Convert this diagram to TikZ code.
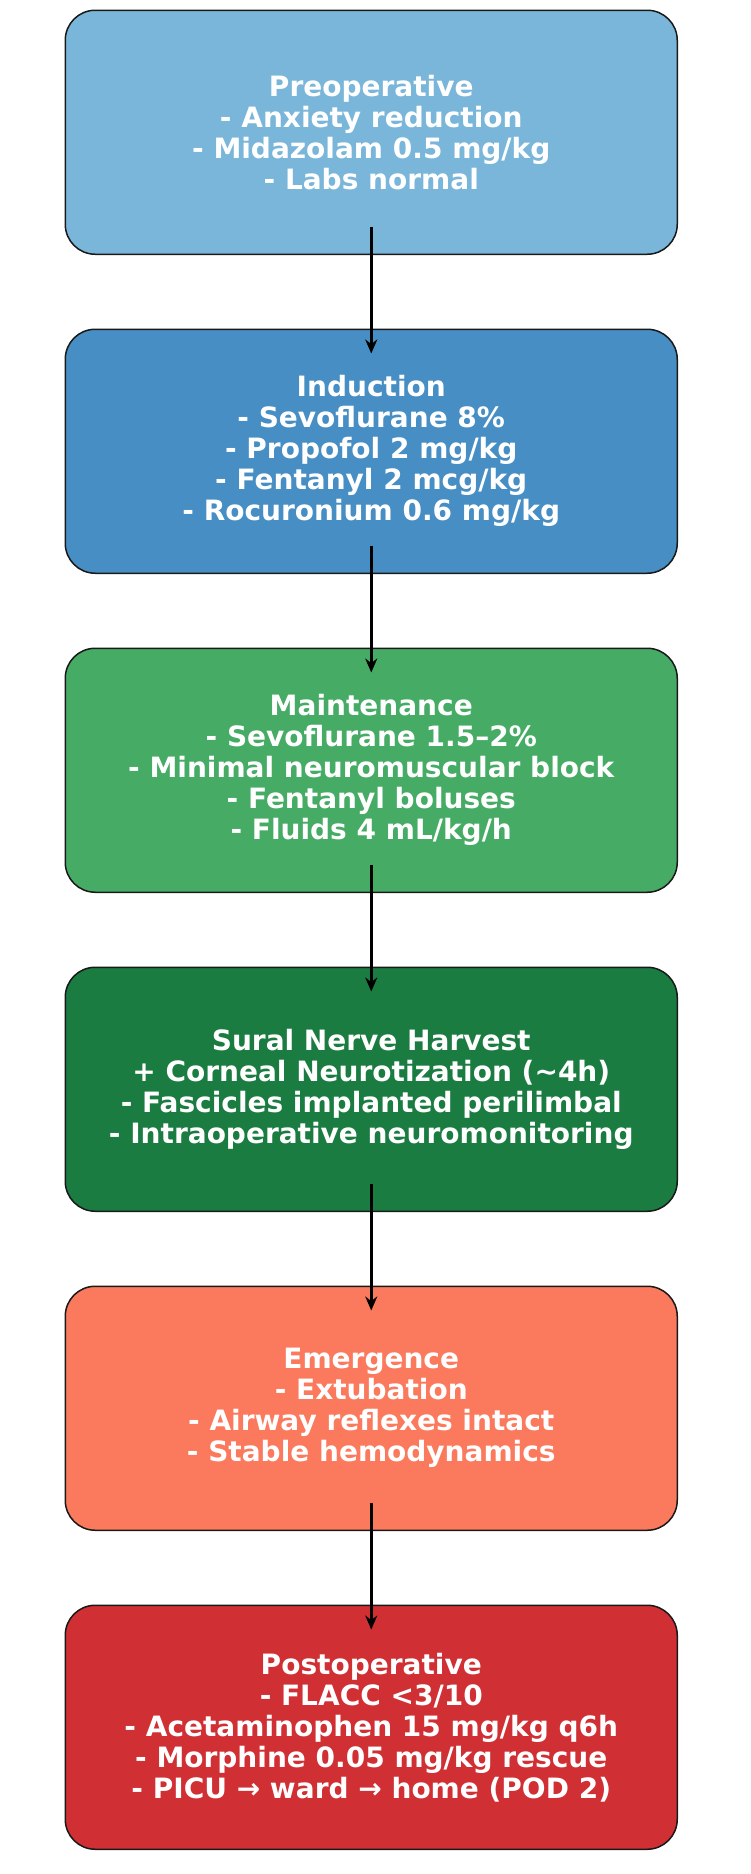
\documentclass[tikz,border=0pt]{standalone}
\usepackage{fontspec}
\setmainfont{DejaVu Sans}
\usepackage{tikz}
\usetikzlibrary{arrows.meta, positioning}
\definecolor{preblue}{HTML}{7AB6DA}
\definecolor{indblue}{HTML}{468EC4}
\definecolor{maingreen}{HTML}{46AC65}
\definecolor{surggreen}{HTML}{1A7C41}
\definecolor{emersalmon}{HTML}{FB795C}
\definecolor{postred}{HTML}{D02F34}
\begin{document}
\begin{tikzpicture}[
  phase/.style={draw=black!90, line width=1.5pt, rounded corners=30pt,
                minimum width=612pt, minimum height=244pt, align=center,
                text=white, font=\fontsize{28}{31}\selectfont\bfseries},
  flow/.style={-{Stealth[length=14pt, width=12pt]}, line width=3.5pt, black},
  node distance=73.5pt
]
  \useasboundingbox (0,0) rectangle (750pt,-1874pt);

  \node[phase, fill=preblue, anchor=north] (preop) at (371.25pt,-9.5pt)
    {Preoperative\\- Anxiety reduction\\- Midazolam 0.5 mg/kg\\- Labs normal};

  \node[phase, fill=indblue, below=of preop] (induct)
    {Induction\\- Sevoflurane 8\%\\- Propofol 2 mg/kg\\- Fentanyl 2 mcg/kg\\- Rocuronium 0.6 mg/kg};

  \node[phase, fill=maingreen, below=of induct] (maint)
    {Maintenance\\- Sevoflurane 1.5–2\%\\- Minimal neuromuscular block\\- Fentanyl boluses\\- Fluids 4 mL/kg/h};

  \node[phase, fill=surggreen, below=of maint] (surg)
    {Sural Nerve Harvest\\+ Corneal Neurotization (\textasciitilde4h)\\- Fascicles implanted perilimbal\\- Intraoperative neuromonitoring};

  \node[phase, fill=emersalmon, below=of surg] (emerg)
    {Emergence\\- Extubation\\- Airway reflexes intact\\- Stable hemodynamics};

  \node[phase, fill=postred, below=of emerg] (postop)
    {Postoperative\\- FLACC <3/10\\- Acetaminophen 15 mg/kg q6h\\- Morphine 0.05 mg/kg rescue\\- PICU → ward → home (POD 2)};

  \draw[flow] ([yshift=28.5pt]preop.south) -- ([yshift=-25pt]induct.north);
  \draw[flow] ([yshift=28.5pt]induct.south) -- ([yshift=-25pt]maint.north);
  \draw[flow] ([yshift=28.5pt]maint.south) -- ([yshift=-25pt]surg.north);
  \draw[flow] ([yshift=28.5pt]surg.south) -- ([yshift=-25pt]emerg.north);
  \draw[flow] ([yshift=28.5pt]emerg.south) -- ([yshift=-25pt]postop.north);
\end{tikzpicture}
\end{document}
